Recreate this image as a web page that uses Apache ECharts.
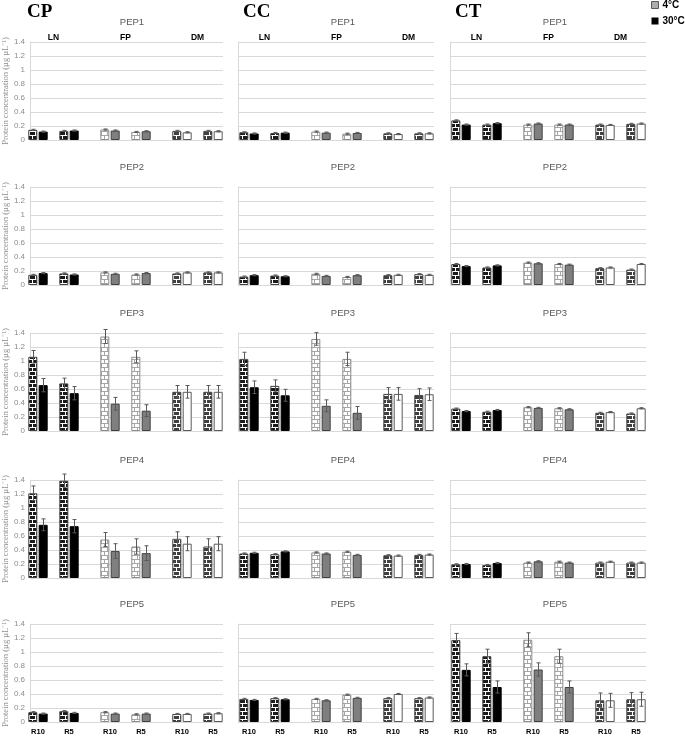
<!DOCTYPE html>
<html>
<head>
<meta charset="utf-8">
<script src="https://cdn.jsdelivr.net/npm/echarts@6/dist/echarts.min.js"></script>
<style>
  html, body { margin: 0; background: #fff; }
  #chart { width: 685px; height: 737px; }
</style>
</head>
<body>
<div id="chart"></div>
<script>
// 数据：每列 (CP / CC / CT)，每行一个 PEP，顺序 LN R10, LN R5, FP R10, FP R5, DM R10, DM R5
const columns = ['CP', 'CC', 'CT'];
const peptides = ['PEP1', 'PEP2', 'PEP3', 'PEP4', 'PEP5'];
const groups = ['LN', 'FP', 'DM'];
const roots = ['R10', 'R5'];
const temps = ['4°C', '30°C'];

const cp4C = [
  [0.145, 0.13, 0.15, 0.115, 0.13, 0.13],
  [0.145, 0.165, 0.18, 0.15, 0.165, 0.18],
  [1.06, 0.68, 1.35, 1.06, 0.56, 0.56],
  [1.21, 1.39, 0.55, 0.45, 0.56, 0.45],
  [0.14, 0.155, 0.14, 0.11, 0.115, 0.12]
];
const cp30C = [
  [0.12, 0.135, 0.135, 0.125, 0.11, 0.125],
  [0.17, 0.15, 0.16, 0.17, 0.18, 0.18],
  [0.655, 0.54, 0.39, 0.29, 0.56, 0.56],
  [0.76, 0.74, 0.385, 0.355, 0.49, 0.49],
  [0.12, 0.13, 0.12, 0.12, 0.115, 0.125]
];
const cc4C = [
  [0.11, 0.1, 0.12, 0.09, 0.095, 0.095],
  [0.12, 0.135, 0.16, 0.115, 0.14, 0.155],
  [1.03, 0.645, 1.315, 1.03, 0.53, 0.515],
  [0.35, 0.34, 0.365, 0.375, 0.325, 0.33],
  [0.33, 0.34, 0.33, 0.39, 0.34, 0.34]
];
const cc30C = [
  [0.093, 0.105, 0.105, 0.1, 0.085, 0.095],
  [0.14, 0.125, 0.13, 0.14, 0.145, 0.145],
  [0.625, 0.51, 0.36, 0.26, 0.53, 0.525],
  [0.36, 0.38, 0.35, 0.33, 0.32, 0.335],
  [0.315, 0.325, 0.31, 0.345, 0.4, 0.35]
];
const ct4C = [
  [0.28, 0.22, 0.22, 0.22, 0.22, 0.23],
  [0.30, 0.25, 0.32, 0.30, 0.24, 0.22],
  [0.32, 0.275, 0.34, 0.325, 0.26, 0.25],
  [0.195, 0.186, 0.22, 0.233, 0.22, 0.22],
  [1.17, 0.94, 1.175, 0.94, 0.31, 0.325]
];
const ct30C = [
  [0.22, 0.24, 0.235, 0.22, 0.215, 0.235],
  [0.27, 0.28, 0.31, 0.29, 0.25, 0.30],
  [0.285, 0.30, 0.33, 0.31, 0.27, 0.325],
  [0.20, 0.214, 0.238, 0.22, 0.233, 0.22],
  [0.745, 0.50, 0.75, 0.50, 0.31, 0.325]
];

// 误差（标准差）
const cpErr4C = [
  [0.008, 0.008, 0.008, 0.008, 0.008, 0.008],
  [0.008, 0.008, 0.008, 0.008, 0.008, 0.008],
  [0.09, 0.075, 0.1, 0.085, 0.09, 0.09],
  [0.105, 0.095, 0.1, 0.11, 0.1, 0.11],
  [0.008, 0.008, 0.008, 0.008, 0.008, 0.008]
];
const cpErr30C = [
  [0.008, 0.008, 0.008, 0.008, 0.008, 0.008],
  [0.008, 0.008, 0.008, 0.008, 0.008, 0.008],
  [0.095, 0.095, 0.09, 0.085, 0.09, 0.09],
  [0.085, 0.095, 0.105, 0.105, 0.1, 0.1],
  [0.008, 0.008, 0.008, 0.008, 0.008, 0.008]
];
const ccErr4C = [
  [0.008, 0.008, 0.008, 0.008, 0.008, 0.008],
  [0.008, 0.008, 0.008, 0.008, 0.008, 0.008],
  [0.095, 0.085, 0.09, 0.095, 0.09, 0.09],
  [0.008, 0.008, 0.008, 0.008, 0.008, 0.008],
  [0.008, 0.008, 0.008, 0.008, 0.008, 0.008]
];
const ccErr30C = [
  [0.008, 0.008, 0.008, 0.008, 0.008, 0.008],
  [0.008, 0.008, 0.008, 0.008, 0.008, 0.008],
  [0.09, 0.085, 0.085, 0.09, 0.09, 0.09],
  [0.008, 0.008, 0.008, 0.008, 0.008, 0.008],
  [0.008, 0.008, 0.008, 0.008, 0.008, 0.008]
];
const ctErr4C = [
  [0.008, 0.008, 0.008, 0.008, 0.008, 0.008],
  [0.008, 0.008, 0.008, 0.008, 0.008, 0.008],
  [0.008, 0.008, 0.008, 0.008, 0.008, 0.008],
  [0.008, 0.008, 0.008, 0.008, 0.008, 0.008],
  [0.095, 0.1, 0.1, 0.1, 0.105, 0.095]
];
const ctErr30C = [
  [0.008, 0.008, 0.008, 0.008, 0.008, 0.008],
  [0.008, 0.008, 0.008, 0.008, 0.008, 0.008],
  [0.008, 0.008, 0.008, 0.008, 0.008, 0.008],
  [0.008, 0.008, 0.008, 0.008, 0.008, 0.008],
  [0.086, 0.086, 0.095, 0.086, 0.1, 0.1]
];

const values4C = [cp4C, cc4C, ct4C];
const values30C = [cp30C, cc30C, ct30C];
const errors4C = [cpErr4C, ccErr4C, ctErr4C];
const errors30C = [cpErr30C, ccErr30C, ctErr30C];

// 布局
const colLeft = [27, 238, 450];
const rowTop = [42, 187, 333, 480, 624];
const panelW = 196;
const panelH = 98;
const groupOffset = [-4.5, 67.5, 139.5];
const groupW = 62;
const barW = 9;
const barGap = 0.15;
const barOffset = barW * (1 + barGap) / 2;

// 图案填充（砖纹）
function brick(bg, line) {
  const c = document.createElement('canvas');
  c.width = 6; c.height = 8;
  const g = c.getContext('2d');
  g.fillStyle = bg; g.fillRect(0, 0, 6, 8);
  g.fillStyle = line;
  g.fillRect(0, 3, 6, 1); g.fillRect(0, 7, 6, 1);
  g.fillRect(2, 0, 1, 3); g.fillRect(5, 4, 1, 3);
  return { image: c, repeat: 'repeat' };
}
function checker(a, b) {
  const c = document.createElement('canvas');
  c.width = 2; c.height = 2;
  const g = c.getContext('2d');
  g.fillStyle = a; g.fillRect(0, 0, 2, 2);
  g.fillStyle = b; g.fillRect(0, 0, 1, 1); g.fillRect(1, 1, 1, 1);
  return { image: c, repeat: 'repeat' };
}

const fill4C = [brick('#1a1a1a', '#ffffff'), brick('#ffffff', '#a6a6a6'), brick('#404040', '#ffffff')];
const fill30C = ['#000000', '#7f7f7f', '#ffffff'];
const border4C = ['#404040', '#8c8c8c', '#404040'];
const border30C = ['#000000', '#404040', '#595959'];

function renderErr(params, api) {
  const k = api.value(0), v = api.value(1), e = api.value(2), s = api.value(3);
  const hi = api.coord([k, v + e]);
  const lo = api.coord([k, v - e]);
  const x = Math.round(hi[0] + s * barOffset) + 0.5;
  const st = { stroke: '#595959', lineWidth: 1 };
  return {
    type: 'group',
    children: [
      { type: 'line', shape: { x1: x, y1: hi[1], x2: x, y2: lo[1] }, style: st },
      { type: 'line', shape: { x1: x - 2, y1: hi[1], x2: x + 2, y2: hi[1] }, style: st },
      { type: 'line', shape: { x1: x - 2, y1: lo[1], x2: x + 2, y2: lo[1] }, style: st }
    ]
  };
}

const grid = [], xAxis = [], yAxis = [], series = [], graphic = [];
const sans = 'Liberation Sans';

columns.forEach((col, c) => {
  graphic.push({
    type: 'text', left: colLeft[c] + (c === 0 ? 0 : 5), top: 3,
    style: { text: col, font: 'bold 19px "Liberation Serif"', fill: '#000' }
  });
  peptides.forEach((pep, r) => {
    const left = colLeft[c], top = rowTop[r];
    graphic.push({
      type: 'text', x: left + panelW / 2 + 7, y: top - 20,
      style: { text: pep, font: '9.5px ' + sans, fill: '#595959', align: 'center', verticalAlign: 'middle' }
    });
    // 面板网格（网格线 + 坐标轴）
    const pi = grid.length;
    grid.push({ left: left, top: top, width: panelW, height: panelH });
    xAxis.push({ type: 'category', gridIndex: pi, show: false, data: [''] });
    yAxis.push({
      type: 'value', gridIndex: pi, min: 0, max: 1.4, interval: 0.2,
      axisLine: { show: true, lineStyle: { color: '#d9d9d9' } },
      axisTick: { show: false },
      splitLine: { lineStyle: { color: '#d9d9d9' } },
      axisLabel: { show: c === 0, color: '#8c8c8c', fontSize: 8, fontFamily: sans, margin: 5 },
      name: c === 0 ? 'Protein concentration (µg µL⁻¹)' : '',
      nameLocation: 'middle', nameGap: 19,
      nameTextStyle: { color: '#8c8c8c', fontSize: 8.5, fontFamily: 'Liberation Serif' }
    });
    groups.forEach((grp, g) => {
      if (r === 0) {
        graphic.push({
          type: 'text', x: left + groupOffset[g] + groupW / 2, y: top - 4,
          style: { text: grp, font: 'bold 8.5px ' + sans, fill: '#000', align: 'center', verticalAlign: 'middle' }
        });
      }
      const gi = grid.length;
      grid.push({ left: left + groupOffset[g], top: top, width: groupW, height: panelH });
      xAxis.push({
        type: 'category', gridIndex: gi, data: roots,
        axisLine: { show: false }, axisTick: { show: false },
        axisLabel: { show: r === 4, fontSize: 7.5, fontWeight: 'bold', color: '#000', fontFamily: sans, margin: 6 }
      });
      yAxis.push({ type: 'value', gridIndex: gi, min: 0, max: 1.4, show: false, splitLine: { show: false } });
      const v4 = values4C[c][r].slice(g * 2, g * 2 + 2);
      const v30 = values30C[c][r].slice(g * 2, g * 2 + 2);
      const e4 = errors4C[c][r].slice(g * 2, g * 2 + 2);
      const e30 = errors30C[c][r].slice(g * 2, g * 2 + 2);
      series.push({
        name: temps[0], type: 'bar', xAxisIndex: gi, yAxisIndex: gi, data: v4,
        barWidth: barW, barGap: (barGap * 100) + '%',
        itemStyle: { color: fill4C[g], borderColor: border4C[g], borderWidth: 1 },
        animation: false, silent: true
      });
      series.push({
        name: temps[1], type: 'bar', xAxisIndex: gi, yAxisIndex: gi, data: v30,
        barWidth: barW, barGap: (barGap * 100) + '%',
        itemStyle: { color: fill30C[g], borderColor: border30C[g], borderWidth: 1 },
        animation: false, silent: true
      });
      const errData = [];
      roots.forEach((rt, k) => {
        errData.push([k, v4[k], e4[k], -1]);
        errData.push([k, v30[k], e30[k], 1]);
      });
      series.push({
        name: 'err', type: 'custom', xAxisIndex: gi, yAxisIndex: gi,
        renderItem: renderErr, data: errData, encode: { x: 0, y: 1 }, z: 5,
        animation: false, silent: true
      });
    });
  });
});

const myChart = echarts.init(document.getElementById('chart'));
const option = {
  backgroundColor: '#fff',
  animation: false,
  legend: {
    orient: 'vertical', left: 651, top: 0, padding: 0,
    itemWidth: 7, itemHeight: 7, itemGap: 6,
    textStyle: { fontSize: 10, fontWeight: 'bold', color: '#000', fontFamily: sans, padding: [0, 0, 0, -1] },
    data: [
      { name: temps[0], icon: 'rect', itemStyle: { color: checker('#ffffff', '#595959'), borderColor: '#595959', borderWidth: 1 } },
      { name: temps[1], icon: 'rect', itemStyle: { color: '#000', borderWidth: 0 } }
    ]
  },
  grid, xAxis, yAxis, series, graphic
};
option && myChart.setOption(option);
</script>
</body>
</html>
